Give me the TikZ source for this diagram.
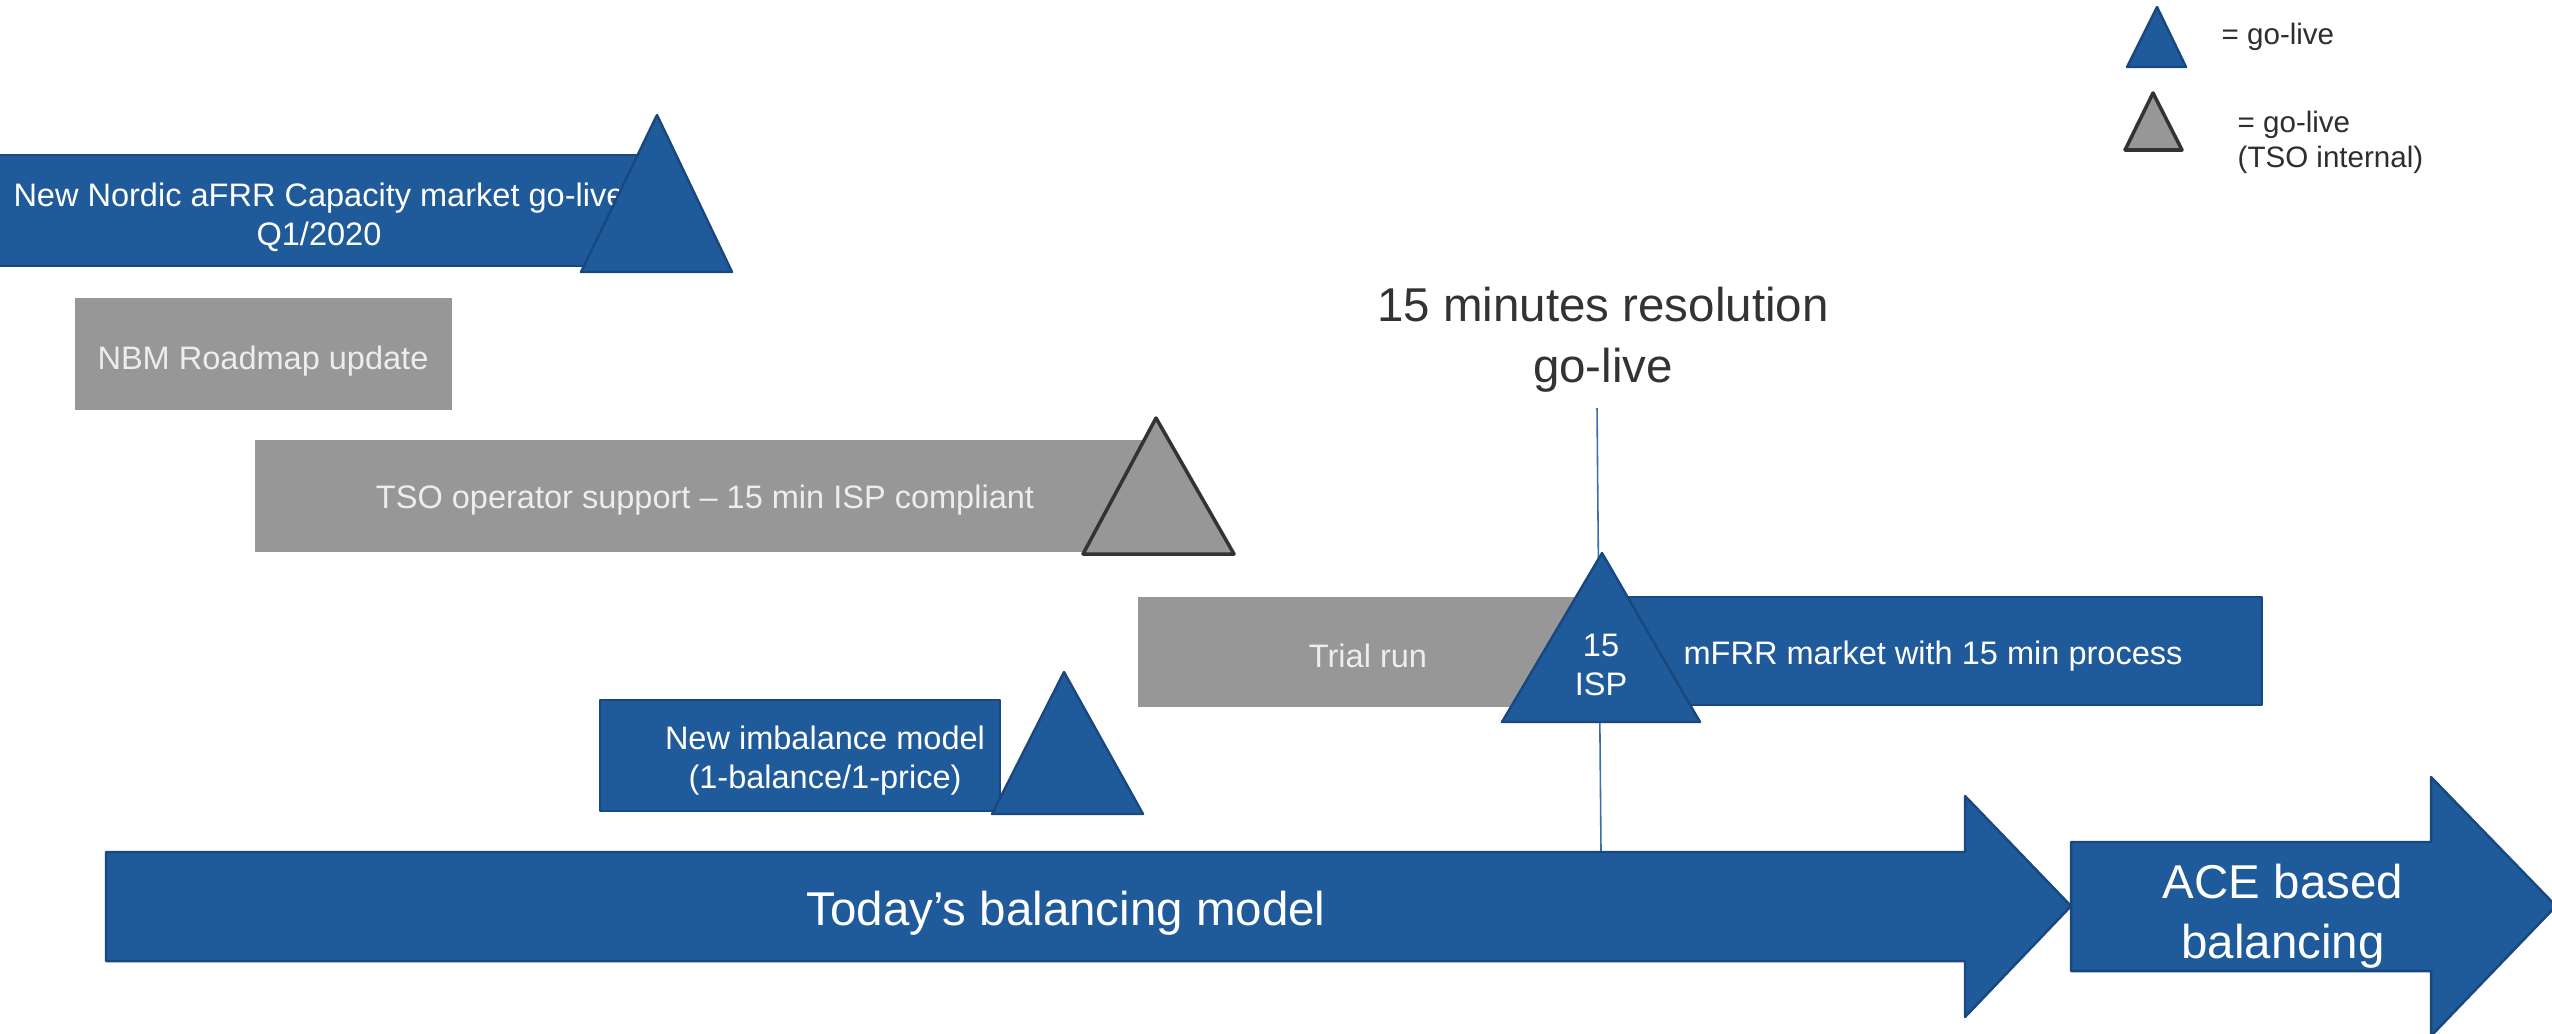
\documentclass[tikz,border=0pt]{standalone}
\usepackage{fontspec}
\setmainfont{Liberation Sans}
\definecolor{nblue}{HTML}{1F5A9B}
\definecolor{nblueline}{HTML}{19487E}
\definecolor{ngray}{HTML}{979797}
\definecolor{ngrayline}{HTML}{333333}
\definecolor{ntext}{HTML}{333333}
\definecolor{vline}{HTML}{3A6EAD}
\tikzset{
  bluefill/.style={fill=nblue, draw=nblueline, line width=0.7pt, line join=round},
  grayfill/.style={fill=ngray},
  graytri/.style={fill=ngray, draw=ngrayline, line width=1pt, line join=round},
  bodytxt/.style={text=white, font=\fontsize{9.25pt}{11.1pt}\selectfont, align=center, inner sep=0pt},
  graytxt/.style={text=white!93!black, font=\fontsize{9.25pt}{11.1pt}\selectfont, align=center, inner sep=0pt},
  bigtxt/.style={text=white, font=\fontsize{13.5pt}{17.2pt}\selectfont, align=center, inner sep=0pt},
  headtxt/.style={text=ntext, font=\fontsize{13.5pt}{17.4pt}\selectfont, align=center, inner sep=0pt},
  legtxt/.style={text=ntext!90!black, font=\fontsize{8.4pt}{10pt}\selectfont, align=left, inner sep=0pt},
}
\begin{document}
\begin{tikzpicture}[x=0.01cm, y=-0.01cm]
\useasboundingbox (0,0) rectangle (2552,1033);
\fill[white] (0,0) rectangle (2552,1033);

% legend
\filldraw[bluefill] (2157,7) -- (2127,67) -- (2186,67) -- cycle;
\node[legtxt, anchor=west] (leg1) at (2221,37) {= go-live};
\filldraw[graytri] (2153,93) -- (2125,150) -- (2182,150) -- cycle;
\node[legtxt, anchor=west] (leg2) at (2237,142) {= go-live\\(TSO internal)};

% aFRR capacity market
\filldraw[bluefill] (-5,155) rectangle (640,266);
\node[bodytxt] (afrr) at (319,217) {New Nordic aFRR Capacity market go-live\\Q1/2020};
\filldraw[bluefill] (657,115) -- (581,272) -- (732,272) -- cycle;

% NBM roadmap update
\fill[grayfill] (75,298) rectangle (452,410);
\node[graytxt] (nbm) at (263,361) {NBM Roadmap update};

% TSO operator support
\fill[grayfill] (255,440) rectangle (1150,552);
\node[graytxt] (tso) at (705,500) {TSO operator support -- 15 min ISP compliant};
\filldraw[graytri] (1156,418) -- (1083,554) -- (1234,554) -- cycle;

% 15 minutes resolution
\node[headtxt] (res) at (1603,340) {15 minutes resolution\\go-live};
\coordinate (vtop) at (1597,408);
\coordinate (vbot) at (1601,852);
\draw[vline, line width=0.45pt] (vtop) -- (vbot);

% trial run / mFRR
\fill[grayfill] (1138,597) rectangle (1600,707);
\node[graytxt] (trial) at (1368,656) {Trial run};
\filldraw[bluefill] (1600,597) rectangle (2262,705);
\node[bodytxt] (mfrr) at (1933,656) {mFRR market with 15 min process};
\filldraw[bluefill] (1602,553) -- (1502,722) -- (1700,722) -- cycle;
\node[bodytxt] (isp) at (1601,665) {15\\ISP};

% imbalance model
\filldraw[bluefill] (600,700) rectangle (1000,811);
\node[bodytxt] (imb) at (825,761) {New imbalance model\\(1-balance/1-price)};
\filldraw[bluefill] (1064,672) -- (992,814) -- (1143,814) -- cycle;

% big arrows
\filldraw[bluefill] (106,852) -- (1965,852) -- (1965,796) -- (2071,906) -- (1965,1017) -- (1965,961) -- (106,961) -- cycle;
\node[bigtxt] (today) at (1066,913) {Today’s balancing model};
\filldraw[bluefill] (2071,842) -- (2431,842) -- (2431,777) -- (2556,906) -- (2431,1036) -- (2431,971) -- (2071,971) -- cycle;
\node[bigtxt] (ace) at (2283,916) {ACE based\\balancing};
\end{tikzpicture}
\end{document}
